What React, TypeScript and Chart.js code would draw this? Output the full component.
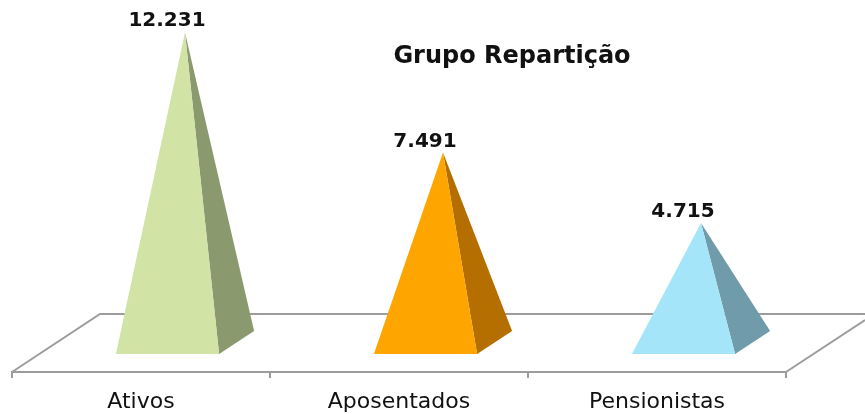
import React, { useEffect, useRef } from "react";
import { Chart, registerables } from "chart.js";

Chart.register(...registerables);

const categories = ["Ativos", "Aposentados", "Pensionistas"];
const values = [12231, 7491, 4715];
const valueLabels = ["12.231", "7.491", "4.715"];
const frontColors = ["#D1E3A5", "#FFA500", "#A5E5FA"];
const sideColors = ["#8A9A6E", "#B56F00", "#6F9BAA"];
const titleText = "Grupo Repartição";

const FONT = '"DejaVu Sans", Verdana, sans-serif';
const GRID = "#9C9C9C";
const TEXT = "#111111";

const pyramids = {
  id: "pyramids",
  beforeDatasetsDraw(chart: any) {
    const { ctx } = chart;
    const x = chart.scales.x;
    const bottom = x.top;
    const backY = bottom - 58;
    ctx.save();
    ctx.strokeStyle = GRID;
    ctx.lineWidth = 2;
    ctx.beginPath();
    ctx.moveTo(x.left, bottom);
    ctx.lineTo(x.left + 88, backY);
    ctx.lineTo(chart.width, backY);
    ctx.moveTo(x.right, bottom);
    ctx.lineTo(x.right + 79, bottom - 52);
    ctx.stroke();
    ctx.restore();
  },
  afterDatasetsDraw(chart: any) {
    const { ctx } = chart;
    const meta = chart.getDatasetMeta(0);
    ctx.save();
    meta.data.forEach((bar: any, i: number) => {
      const half = bar.width / 2;
      const cx = bar.x + 44;
      const base = bar.base;
      const frontY = base + 11.5;
      const backY = base - 11.5;
      const fl = cx - half - 17.5;
      const fr = cx + half - 17.5;
      const br = cx + half + 17.5;
      ctx.fillStyle = sideColors[i];
      ctx.beginPath();
      ctx.moveTo(cx, bar.y);
      ctx.lineTo(fr, frontY);
      ctx.lineTo(br, backY);
      ctx.closePath();
      ctx.fill();
      ctx.fillStyle = frontColors[i];
      ctx.beginPath();
      ctx.moveTo(cx, bar.y);
      ctx.lineTo(fl, frontY);
      ctx.lineTo(fr, frontY);
      ctx.closePath();
      ctx.fill();
      ctx.fillStyle = TEXT;
      ctx.font = `bold 20px ${FONT}`;
      ctx.textAlign = "center";
      ctx.textBaseline = "alphabetic";
      ctx.fillText(valueLabels[i], cx - 18, bar.y - 6);
    });
    ctx.fillStyle = TEXT;
    ctx.font = `bold 24px ${FONT}`;
    ctx.textAlign = "center";
    ctx.textBaseline = "alphabetic";
    ctx.fillText(titleText, 512, 63);
    ctx.restore();
  },
};

export default function App() {
  const ref = useRef<HTMLCanvasElement>(null);
  useEffect(() => {
    const chart = new Chart(ref.current!, {
      type: "bar",
      data: {
        labels: categories,
        datasets: [
          {
            data: values,
            backgroundColor: "rgba(0,0,0,0)",
            barPercentage: 0.4,
            categoryPercentage: 1,
          },
        ],
      },
      options: {
        responsive: false,
        animation: false,
        layout: { padding: { left: 12, right: 79, top: 0, bottom: 0 } },
        plugins: { legend: { display: false }, tooltip: { enabled: false }, title: { display: false } },
        scales: {
          x: {
            afterFit: (s: any) => {
              s.height = 42;
            },
            border: { color: GRID, width: 2 },
            grid: { color: GRID, lineWidth: 2, drawOnChartArea: false, drawTicks: true, tickLength: 6 },
            ticks: {
              color: TEXT,
              font: { family: FONT, size: 22 },
              padding: 11,
              autoSkip: false,
              maxRotation: 0,
            },
          },
          y: { display: false, min: -1165, max: 13511 },
        },
      },
      plugins: [pyramids],
    });
    return () => chart.destroy();
  }, []);
  return (
    <div style={{ position: "absolute", left: 0, top: 0, width: 865, height: 414, background: "#fff" }}>
      <canvas ref={ref} width={865} height={414} style={{ display: "block" }} />
    </div>
  );
}
